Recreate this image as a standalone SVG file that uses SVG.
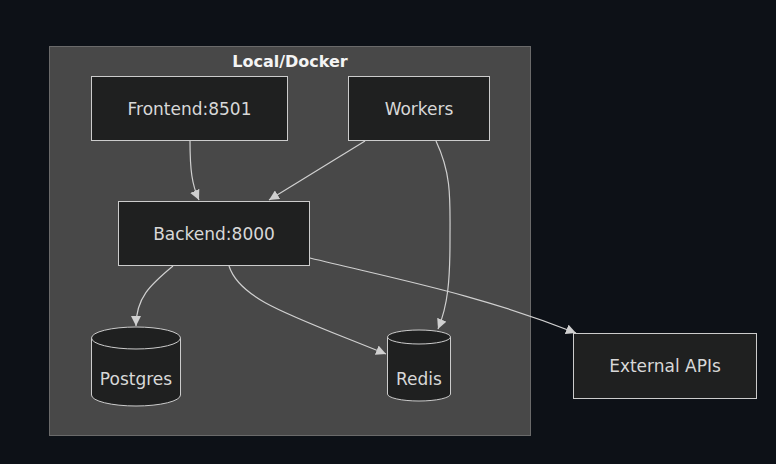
<svg xmlns="http://www.w3.org/2000/svg" width="776" height="464" viewBox="0 0 776 464">
<defs>
<style>
.bg{fill:#0d1117}
.cluster{fill:#484848;stroke:#6a6a6a;stroke-width:1}
.node{fill:#1f2020;stroke:#cccccc;stroke-width:1}
.lbl{font-family:"DejaVu Sans","Noto Sans",sans-serif;font-size:17px;fill:#d8d8d8;text-anchor:middle;dominant-baseline:central}
.title{font-family:"DejaVu Sans","Noto Sans",sans-serif;font-size:16px;font-weight:bold;fill:#f4f4f4;text-anchor:middle;dominant-baseline:central}
.edge{fill:none;stroke:#d0d0d0;stroke-width:1.2}
</style>
<marker id="arr" viewBox="0 0 10 10" refX="10" refY="5" markerWidth="10" markerHeight="10" markerUnits="userSpaceOnUse" orient="auto">
<path d="M0,0 L10,5 L0,10 z" fill="#d0d0d0"/>
</marker>
</defs>
<rect class="bg" x="0" y="0" width="776" height="464"/>
<g id="cluster-local">
<rect class="cluster" x="49.5" y="46.5" width="481" height="389"/>
<text class="title" x="290" y="61">Local/Docker</text>
</g>
<g id="edges">
<path class="edge" marker-end="url(#arr)" d="M190,141 C190,170 192,185 199,200"/>
<path class="edge" marker-end="url(#arr)" d="M365,141 L269,200"/>
<path class="edge" marker-end="url(#arr)" d="M436,141 C452,175 450,200 450,240 C450,280 448,305 438,329"/>
<path class="edge" marker-end="url(#arr)" d="M173,266 C150,285 136,298 136,326"/>
<path class="edge" marker-end="url(#arr)" d="M229,266 C240,300 290,315 386,354"/>
<path class="edge" marker-end="url(#arr)" d="M310,258 C400,280 480,295 576,333"/>
</g>
<g id="node-frontend">
<rect class="node" x="91.5" y="76.5" width="196" height="64"/>
<text class="lbl" x="189.5" y="108.5">Frontend:8501</text>
</g>
<g id="node-workers">
<rect class="node" x="348.5" y="76.5" width="141" height="64"/>
<text class="lbl" x="419" y="108.5">Workers</text>
</g>
<g id="node-backend">
<rect class="node" x="118.5" y="201.5" width="191" height="64"/>
<text class="lbl" x="214" y="233.5">Backend:8000</text>
</g>
<g id="node-postgres">
<path class="node" d="M91.5,338 A44.5,11 0 0 1 180.5,338 L180.5,395 A44.5,11 0 0 1 91.5,395 Z"/>
<path class="node" fill="none" d="M91.5,338 A44.5,11 0 0 0 180.5,338"/>
<text class="lbl" x="136" y="378.5">Postgres</text>
</g>
<g id="node-redis">
<path class="node" d="M387.5,337 A31.5,7 0 0 1 450.5,337 L450.5,394 A31.5,7 0 0 1 387.5,394 Z"/>
<path class="node" fill="none" d="M387.5,337 A31.5,7 0 0 0 450.5,337"/>
<text class="lbl" x="419" y="378.5">Redis</text>
</g>
<g id="node-external">
<rect class="node" x="573.5" y="333.5" width="183" height="65"/>
<text class="lbl" x="665" y="366">External APIs</text>
</g>
</svg>
